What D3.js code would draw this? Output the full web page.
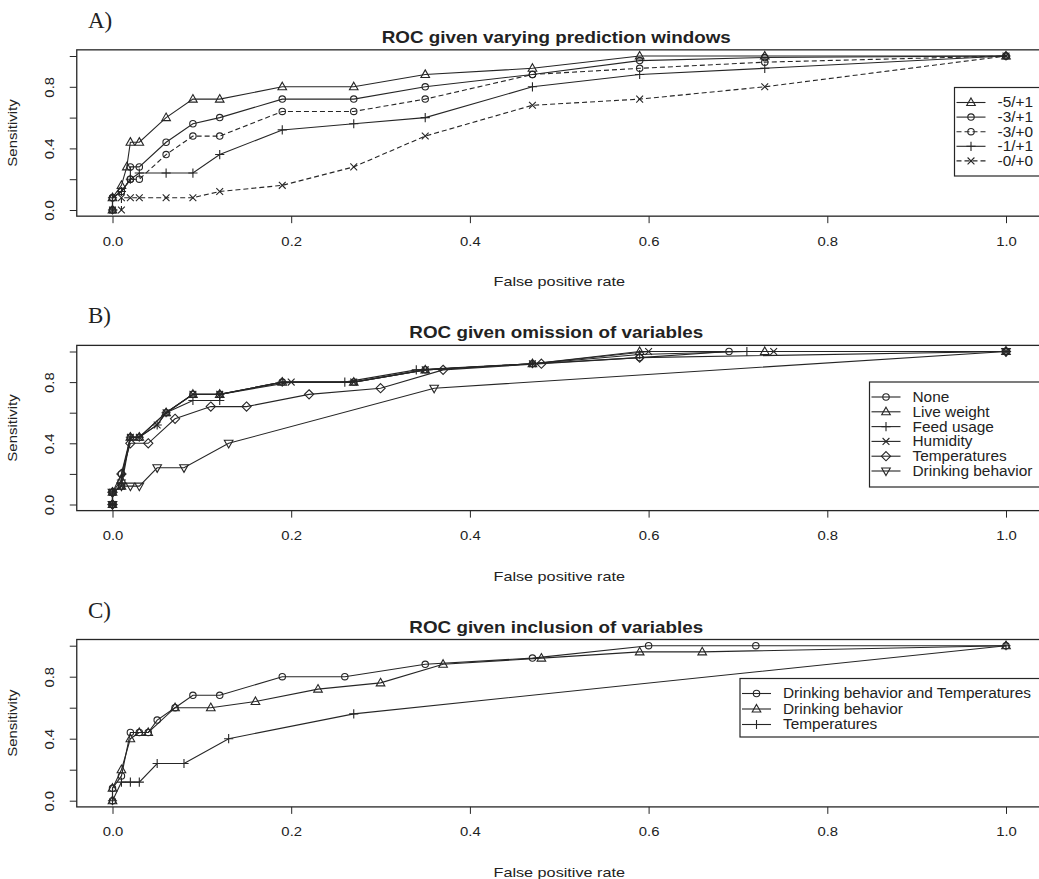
<!DOCTYPE html>
<html lang="en">
<meta charset="utf-8">
<head>
    <script src='https://d3js.org/d3.v7.min.js'></script>
    <style>
        body { margin: 0; background: #fff; }
        text { font-family: "Liberation Sans", Arial, sans-serif; fill: #222; }
    </style>
</head>
<body>
<script>
    // A) ROC given varying prediction windows  [fpr, sensitivity]
    var winM5P1 = [[0,0],[0,0.08],[0.01,0.16],[0.016,0.28],[0.02,0.44],[0.03,0.44],[0.06,0.6],[0.09,0.72],[0.12,0.72],[0.19,0.8],[0.27,0.8],[0.35,0.88],[0.47,0.92],[0.59,1],[0.73,1],[1,1]];
    var winM3P1 = [[0,0],[0,0.08],[0.01,0.12],[0.02,0.2],[0.02,0.28],[0.03,0.28],[0.06,0.44],[0.09,0.56],[0.12,0.6],[0.19,0.72],[0.27,0.72],[0.35,0.8],[0.47,0.88],[0.59,0.97],[0.73,0.99],[1,1]];
    var winM3P0 = [[0,0],[0,0.08],[0.01,0.12],[0.02,0.2],[0.03,0.2],[0.06,0.36],[0.09,0.48],[0.12,0.48],[0.19,0.64],[0.27,0.64],[0.35,0.72],[0.47,0.88],[0.59,0.92],[0.73,0.96],[1,1]];
    var winM1P1 = [[0,0],[0,0.08],[0.01,0.12],[0.02,0.2],[0.03,0.24],[0.06,0.24],[0.09,0.24],[0.12,0.36],[0.19,0.52],[0.27,0.56],[0.35,0.6],[0.47,0.8],[0.59,0.88],[0.73,0.92],[1,1]];
    var winM0P0 = [[0,0],[0.01,0],[0.01,0.08],[0.02,0.08],[0.03,0.08],[0.06,0.08],[0.09,0.08],[0.12,0.12],[0.19,0.16],[0.27,0.28],[0.35,0.48],[0.47,0.68],[0.59,0.72],[0.73,0.8],[1,1]];

    // B) ROC given omission of variables
    var omNone = [[0,0],[0,0.08],[0.01,0.12],[0.01,0.2],[0.02,0.44],[0.03,0.44],[0.06,0.6],[0.09,0.72],[0.12,0.72],[0.19,0.8],[0.27,0.8],[0.35,0.88],[0.47,0.92],[0.59,0.96],[0.69,1],[1,1]];
    var omWeight = [[0,0],[0,0.08],[0.01,0.12],[0.01,0.16],[0.02,0.44],[0.03,0.44],[0.06,0.6],[0.09,0.72],[0.12,0.72],[0.19,0.8],[0.27,0.8],[0.35,0.88],[0.47,0.92],[0.59,1],[0.73,1],[1,1]];
    var omFeed = [[0,0],[0,0.08],[0.01,0.16],[0.02,0.44],[0.03,0.44],[0.05,0.52],[0.06,0.6],[0.09,0.68],[0.12,0.68],[0.12,0.72],[0.19,0.8],[0.26,0.8],[0.34,0.88],[0.47,0.92],[0.59,0.98],[0.71,1],[1,1]];
    var omHumid = [[0,0],[0,0.08],[0.01,0.12],[0.02,0.44],[0.03,0.44],[0.05,0.52],[0.06,0.6],[0.09,0.72],[0.12,0.72],[0.2,0.8],[0.27,0.8],[0.35,0.88],[0.47,0.92],[0.6,1],[0.74,1],[1,1]];
    var omTemp = [[0,0],[0,0.08],[0.01,0.2],[0.02,0.4],[0.04,0.4],[0.07,0.56],[0.11,0.64],[0.15,0.64],[0.22,0.72],[0.3,0.76],[0.37,0.88],[0.48,0.92],[0.59,0.96],[1,1]];
    var omDrink = [[0,0],[0,0.08],[0.01,0.12],[0.02,0.12],[0.03,0.12],[0.05,0.24],[0.08,0.24],[0.13,0.4],[0.36,0.76],[1,1]];

    // C) ROC given inclusion of variables
    var inDrinkTemp = [[0,0],[0,0.08],[0.01,0.16],[0.02,0.44],[0.03,0.44],[0.04,0.44],[0.05,0.52],[0.07,0.6],[0.09,0.68],[0.12,0.68],[0.19,0.8],[0.26,0.8],[0.35,0.88],[0.47,0.92],[0.6,1],[0.72,1],[1,1]];
    var inDrink = [[0,0],[0,0.08],[0.01,0.2],[0.02,0.4],[0.03,0.44],[0.04,0.44],[0.07,0.6],[0.11,0.6],[0.16,0.64],[0.23,0.72],[0.3,0.76],[0.37,0.88],[0.48,0.92],[0.59,0.96],[0.66,0.96],[1,1]];
    var inTemp = [[0,0],[0.01,0.12],[0.02,0.12],[0.03,0.12],[0.05,0.24],[0.08,0.24],[0.13,0.4],[0.27,0.56],[1,1]];

    var xTicks = [0, 0.2, 0.4, 0.6, 0.8, 1.0];
    var yTicks = [0, 0.2, 0.4, 0.6, 0.8, 1.0];
    var yLabels = ["0.0", "", "0.4", "", "0.8", ""];

    var svg = d3.select("body").append("svg")
        .attr("width", 1039)
        .attr("height", 879);

    // R style open symbols
    var symbols = {
        circle: "M3.2,0A3.2,3.2 0 1,1 -3.2,0A3.2,3.2 0 1,1 3.2,0Z",
        triangle: "M0,-4.6L4.3,3L-4.3,3Z",
        plus: "M-4.6,0H4.6M0,-4.6V4.6",
        cross: "M-3.4,-3.4L3.4,3.4M-3.4,3.4L3.4,-3.4",
        diamond: "M0,-4.6L4.6,0L0,4.6L-4.6,0Z",
        invtri: "M0,4.6L4.3,-3L-4.3,-3Z"
    };

    // the picture is a bit wider than tall, so widen the text a little
    function stretch(sel, k) {
        sel.each(function() {
            var w = this.getComputedTextLength();
            if (w > 0) {
                d3.select(this).attr("textLength", w * k).attr("lengthAdjust", "spacingAndGlyphs");
            }
        });
    }

    var x = d3.scaleLinear().domain([0, 1]).range([112.5, 1006]);

    var panels = [
        {
            letter: "A)", title: "ROC given varying prediction windows", y0: 210, y1: 56,
            series: [
                {name: "-5/+1", data: winM5P1, sym: "triangle", dash: null},
                {name: "-3/+1", data: winM3P1, sym: "circle", dash: null},
                {name: "-3/+0", data: winM3P0, sym: "circle", dash: "5,3"},
                {name: "-1/+1", data: winM1P1, sym: "plus", dash: null},
                {name: "-0/+0", data: winM0P0, sym: "cross", dash: "5,3"}
            ],
            legend: {x: 954.5, y: 87.5, h: 88.5, step: 14.6}
        },
        {
            letter: "B)", title: "ROC given omission of variables", y0: 504.5, y1: 351.5,
            series: [
                {name: "None", data: omNone, sym: "circle", dash: null},
                {name: "Live weight", data: omWeight, sym: "triangle", dash: null},
                {name: "Feed usage", data: omFeed, sym: "plus", dash: null},
                {name: "Humidity", data: omHumid, sym: "cross", dash: null},
                {name: "Temperatures", data: omTemp, sym: "diamond", dash: null},
                {name: "Drinking behavior", data: omDrink, sym: "invtri", dash: null}
            ],
            legend: {x: 869.5, y: 382, h: 105, step: 14.8}
        },
        {
            letter: "C)", title: "ROC given inclusion of variables", y0: 800.7, y1: 645.7,
            series: [
                {name: "Drinking behavior and Temperatures", data: inDrinkTemp, sym: "circle", dash: null},
                {name: "Drinking behavior", data: inDrink, sym: "triangle", dash: null},
                {name: "Temperatures", data: inTemp, sym: "plus", dash: null}
            ],
            legend: {x: 740, y: 678.5, h: 58.5, step: 15.5}
        }
    ];

    var ink = "#262626";

    panels.forEach(function(p) {
        var y = d3.scaleLinear().domain([0, 1]).range([p.y0, p.y1]);
        var g = svg.append("g");

        var left = x(-0.04), right = x(1.04), top = y(1.04), bottom = y(-0.04);

        // panel letter
        g.append("text")
            .attr("x", 88).attr("y", top - 22)
            .style("font-family", "'Liberation Serif', 'Times New Roman', serif")
            .style("font-size", "23px")
            .text(p.letter);

        // title
        var tt = g.append("text")
            .attr("x", (left + right) / 2 - 3).attr("y", top - 7)
            .attr("text-anchor", "middle")
            .style("font-size", "16.5px").style("font-weight", "bold")
            .text(p.title);
        stretch(tt, 1.14);

        // box
        g.append("rect")
            .attr("x", left).attr("y", top)
            .attr("width", right - left).attr("height", bottom - top)
            .attr("fill", "none").attr("stroke", ink).attr("stroke-width", 1.3);

        // x axis
        var xa = g.append("g").attr("transform", "translate(0," + bottom + ")")
            .call(d3.axisBottom(x).tickValues(xTicks).tickSize(7).tickPadding(13)
                .tickFormat(d3.format(".1f")));
        xa.select(".domain").remove();
        xa.selectAll("line").attr("stroke", ink);
        xa.selectAll("text").style("font-size", "13.5px").attr("fill", ink)
            .style("font-family", "'Liberation Sans', Arial, sans-serif");
        stretch(xa.selectAll("text"), 1.1);

        // y axis
        var ya = g.append("g").attr("transform", "translate(" + left + ",0)")
            .call(d3.axisLeft(y).tickValues(yTicks).tickSize(7)
                .tickFormat(function(d, i) { return yLabels[i]; }));
        ya.select(".domain").remove();
        ya.selectAll("line").attr("stroke", ink);
        ya.selectAll("text")
            .attr("x", null).attr("dy", null)
            .attr("text-anchor", "middle")
            .attr("transform", "translate(-27,0) rotate(-90)")
            .attr("dy", "0.35em")
            .style("font-size", "13.5px").attr("fill", ink)
            .style("font-family", "'Liberation Sans', Arial, sans-serif");
        stretch(ya.selectAll("text"), 1.1);

        var yt = g.append("text")
            .attr("transform", "translate(17," + ((p.y0 + p.y1) / 2) + ") rotate(-90)")
            .attr("text-anchor", "middle")
            .style("font-size", "13px")
            .text("Sensitivity");
        stretch(yt, 1.15);

        var xt = g.append("text")
            .attr("x", (left + right) / 2).attr("y", bottom + 70)
            .attr("text-anchor", "middle")
            .style("font-size", "13.5px")
            .text("False positive rate");
        stretch(xt, 1.2);

        var line = d3.line()
            .x(function(d) { return x(d[0]); })
            .y(function(d) { return y(d[1]); });

        p.series.forEach(function(s) {
            g.append("path")
                .datum(s.data)
                .attr("d", line)
                .attr("fill", "none")
                .attr("stroke", ink)
                .attr("stroke-width", 1.1)
                .attr("stroke-dasharray", s.dash);
            g.selectAll(null)
                .data(s.data)
                .enter()
                .append("path")
                .attr("transform", function(d) { return "translate(" + x(d[0]) + "," + y(d[1]) + ")"; })
                .attr("d", symbols[s.sym])
                .attr("fill", "none")
                .attr("stroke", ink)
                .attr("stroke-width", 1.1);
        });

        // legend
        var lg = p.legend;
        g.append("rect")
            .attr("x", lg.x).attr("y", lg.y)
            .attr("width", 600).attr("height", lg.h)
            .attr("fill", "white").attr("stroke", ink).attr("stroke-width", 1.2);
        p.series.forEach(function(s, i) {
            var cy = lg.y + 15 + i * lg.step;
            g.append("line")
                .attr("x1", lg.x + 2).attr("x2", lg.x + 31)
                .attr("y1", cy).attr("y2", cy)
                .attr("stroke", ink).attr("stroke-width", 1.1)
                .attr("stroke-dasharray", s.dash);
            g.append("path")
                .attr("transform", "translate(" + (lg.x + 16.5) + "," + cy + ")")
                .attr("d", symbols[s.sym])
                .attr("fill", "none").attr("stroke", ink).attr("stroke-width", 1.1);
            var lt = g.append("text")
                .attr("x", lg.x + 43).attr("y", cy).attr("dy", "0.35em")
                .style("font-size", "14px")
                .text(s.name);
            stretch(lt, 1.1);
        });
    });
</script>
</body>
</html>
